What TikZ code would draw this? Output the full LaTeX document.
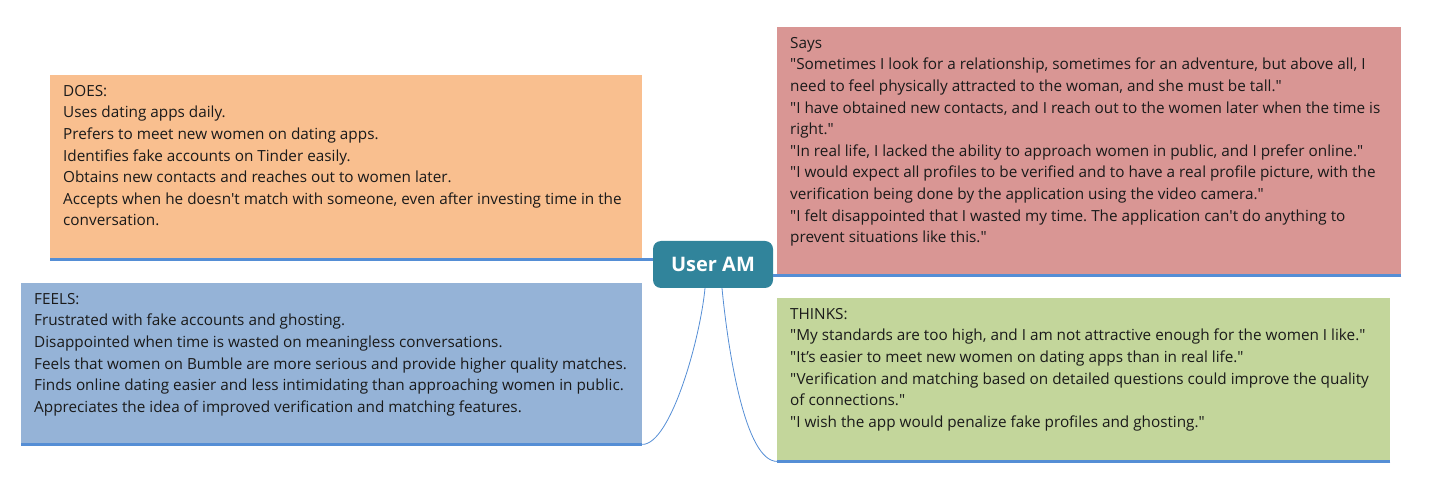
\documentclass[tikz,border=0pt]{standalone}
\usepackage{fontspec}
\setmainfont{Open Sans}[Ligatures=TeXOff]
\usetikzlibrary{positioning}
\frenchspacing

\definecolor{doesfill}{HTML}{F9BF8F}
\definecolor{saysfill}{HTML}{D99694}
\definecolor{feelsfill}{HTML}{95B3D7}
\definecolor{thinksfill}{HTML}{C3D69B}
\definecolor{usercol}{HTML}{31849B}
\definecolor{linkcol}{HTML}{558ED5}
\definecolor{textcol}{HTML}{1A1A1A}

\begin{document}
\begin{tikzpicture}
        [
        x=1pt, y=-1pt,
        font=\fontsize{15.3}{21.6}\selectfont,
        box/.style={rectangle, inner sep=0pt, anchor=north west},
        note/.style={inner sep=0pt, align=left, text=textcol},
        under/.style={draw=linkcol, line width=3pt},
        link/.style={draw=linkcol, line width=0.8pt}
        ]
        \useasboundingbox (0,0) rectangle (1430,502);

        \node (user) [fill=usercol, rounded corners=8pt, minimum width=120pt, minimum height=47pt,
                      text=white, font=\bfseries\fontsize{20}{24}\selectfont] at (713,264.5) {User AM};

        \node (does) [box, fill=doesfill, minimum width=592pt, minimum height=184pt] at (50,75) {};
        \node (says) [box, fill=saysfill, minimum width=624pt, minimum height=248pt] at (777,27) {};
        \node (feels) [box, fill=feelsfill, minimum width=621pt, minimum height=161pt] at (21,283) {};
        \node (thinks) [box, fill=thinksfill, minimum width=613pt, minimum height=163pt] at (777,298) {};

        \node (doestxt) [note, below right=10pt and 13pt of does.north west] {DOES:\\
            Uses dating apps daily.\\
            Prefers to meet new women on dating apps.\\
            Identifies fake accounts on Tinder easily.\\
            Obtains new contacts and reaches out to women later.\\
            Accepts when he doesn't match with someone, even after investing time in the\\
            conversation.};
        \node (saystxt) [note, below right=10pt and 13pt of says.north west] {Says\\
            "Sometimes I look for a relationship, sometimes for an adventure, but above all, I\\
            need to feel physically attracted to the woman, and she must be tall."\\
            "I have obtained new contacts, and I reach out to the women later when the time is\\
            right."\\
            "In real life, I lacked the ability to approach women in public, and I prefer online."\\
            "I would expect all profiles to be verified and to have a real profile picture, with the\\
            verification being done by the application using the video camera."\\
            "I felt disappointed that I wasted my time. The application can't do anything to\\
            prevent situations like this."};
        \node (feelstxt) [note, below right=10pt and 13pt of feels.north west] {FEELS:\\
            Frustrated with fake accounts and ghosting.\\
            Disappointed when time is wasted on meaningless conversations.\\
            Feels that women on Bumble are more serious and provide higher quality matches.\\
            Finds online dating easier and less intimidating than approaching women in public.\\
            Appreciates the idea of improved verification and matching features.};
        \node (thinkstxt) [note, below right=10pt and 13pt of thinks.north west] {THINKS:\\
            "My standards are too high, and I am not attractive enough for the women I like."\\
            "It’s easier to meet new women on dating apps than in real life."\\
            "Verification and matching based on detailed questions could improve the quality\\
            of connections."\\
            "I wish the app would penalize fake profiles and ghosting."};

        % Edges
        \draw [under] (does.south west) -- (does.south east) -- (does.south -| user.west);
        \draw [under] (says.south east) -- (says.south west) -- (says.south -| user.east);

        \draw [under] (feels.south west) -- (feels.south east);
        \draw [link] (feels.south east) .. controls +(28,0) and +(-5,52) .. ([xshift=-8pt]user.south);

        \draw [under] (thinks.south east) -- (thinks.south west);
        \draw [link] ([xshift=9pt]user.south) .. controls +(6,62) and +(-32,0) .. (thinks.south west);

    \end{tikzpicture}
\end{document}
